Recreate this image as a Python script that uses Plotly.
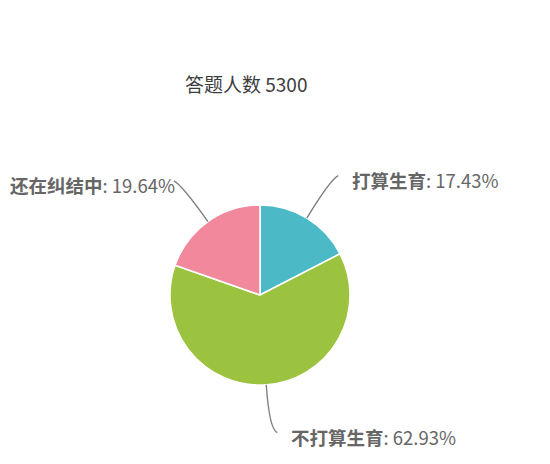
import math
import plotly.graph_objects as go

# --- данные ---
labels = ["打算生育", "不打算生育", "还在纠结中"]
shares = [17.43, 62.93, 19.64]
colors = ["#4bb9c6", "#9bc33f", "#f2889b"]
title_text = "答题人数 5300"

W, H = 550, 464
OFF = 8  # отступ body в браузере
cx, cy, R = 260, 295, 90  # центр и радиус круга в пикселях (по картинке)

def px(x, y):
    return (x - OFF) / W, 1 - (y - OFF) / H

x0, y0 = px(cx - R, cy + R)
x1, y1 = px(cx + R, cy - R)

fig = go.Figure(go.Pie(
    labels=labels,
    values=shares,
    marker=dict(colors=colors, line=dict(color="white", width=1.5)),
    sort=False,
    direction="clockwise",
    textinfo="none",
    hoverinfo="label+percent",
    domain=dict(x=[x0, x1], y=[y0, y1]),
    showlegend=False,
))

# подписи с выносками
shapes = []
annotations = []
total = sum(shares)
acc = 0
for name, v in zip(labels, shares):
    mid = (acc + v / 2) / total * 2 * math.pi
    acc += v
    s, c = math.sin(mid), math.cos(mid)
    sx, sy = cx + R * s, cy - R * c
    mx, my = cx + (R + 45) * s, cy - (R + 45) * c
    side = 1 if s >= 0 else -1
    ex, ey = mx + side * 8, my + (-4 if c > 0 else 3)
    p0, p1, p2 = px(sx, sy), px(mx, my), px(ex, ey)
    shapes.append(dict(
        type="path", xref="paper", yref="paper",
        path=f"M {p0[0]},{p0[1]} Q {p1[0]},{p1[1]} {p2[0]},{p2[1]}",
        line=dict(color="#808080", width=1.4),
    ))
    lx, ly = px(ex + (12 if side > 0 else 3), ey + 4)
    annotations.append(dict(
        x=lx, y=ly, xref="paper", yref="paper",
        text=f"<b>{name}</b>: {v:.2f}%",
        showarrow=False,
        xanchor="left" if side > 0 else "right",
        yanchor="middle",
        font=dict(size=18.5, color="#666666"),
    ))

tx, ty = px(246, 83)
annotations.append(dict(
    x=tx, y=ty, xref="paper", yref="paper", text=title_text,
    showarrow=False, xanchor="center", yanchor="middle",
    font=dict(size=19, color="#3d3d3d"),
))

fig.update_layout(
    width=W, height=H,
    margin=dict(l=0, r=0, t=0, b=0),
    paper_bgcolor="white",
    font=dict(family="Noto Sans CJK SC, Noto Sans, sans-serif"),
    shapes=shapes,
    annotations=annotations,
)

fig.write_html("out.html")
